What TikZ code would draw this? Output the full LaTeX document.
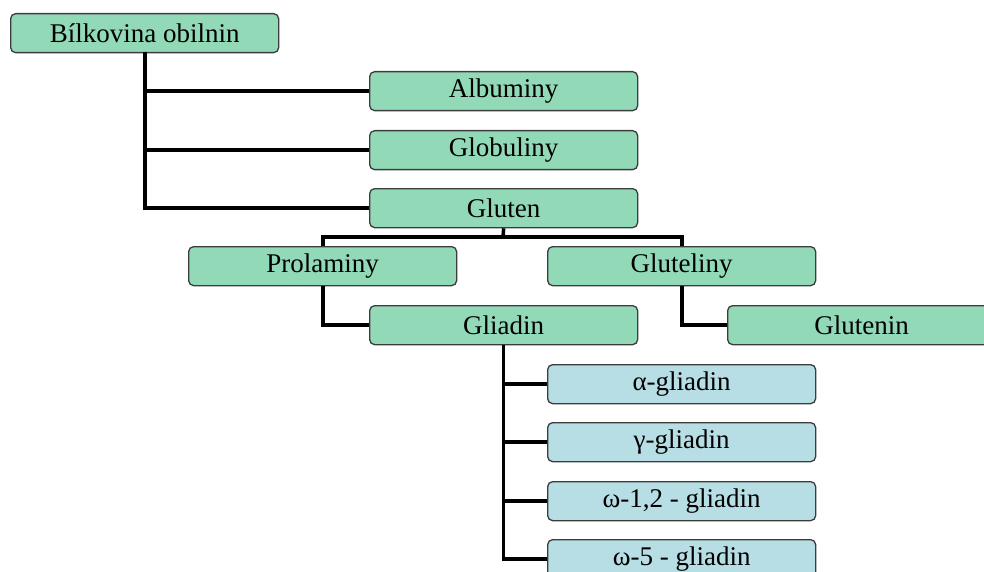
\documentclass[tikz,border=0pt]{standalone}
\usepackage{fontspec}
\setmainfont{Liberation Serif}
\definecolor{boxgreen}{RGB}{146,217,183}
\definecolor{boxblue}{RGB}{183,222,228}
\definecolor{boxline}{RGB}{60,60,60}
\begin{document}
\begin{tikzpicture}[x=1pt,y=-1pt,
  box/.style={draw=boxline,line width=1.3pt,rounded corners=5pt,fill=boxgreen,
    minimum width=268pt,minimum height=39pt,inner sep=0pt,anchor=north west,
    font=\fontsize{27}{30}\selectfont},
  bluebox/.style={box,fill=boxblue},
  conn/.style={line width=3.5pt,draw=black}]
\useasboundingbox (0,0) rectangle (984,572);
\clip (0,0) rectangle (984,572);
\node[box] (bo) at (10,13) {Bílkovina obilnin};
\node[box] (al) at (369,71) {Albuminy};
\node[box] (gb) at (369,130) {Globuliny};
\node[box] (gl) at (369,188) {Gluten};
\node[box] (pr) at (188,246) {Prolaminy};
\node[box] (gt) at (547,246) {Gluteliny};
\node[box] (gd) at (369,305) {Gliadin};
\node[box] (gn) at (727,305) {Glutenin};
\node[bluebox] (a1) at (547,364) {α-gliadin};
\node[bluebox] (a2) at (547,422) {γ-gliadin};
\node[bluebox] (a3) at (547,481) {ω-1,2 - gliadin};
\node[bluebox] (a4) at (547,539) {ω-5 - gliadin};
\draw[conn] (145,52) |- (al.west);
\draw[conn] (145,52) |- (gb.west);
\draw[conn] (145,52) |- (gl.west);
\coordinate (gj) at (503,237);
\draw[conn] (gl.south) -- (gj);
\draw[conn] (pr.north -| 323,0) -- (323,237) -- (682,237) -- (gt.north -| 682,0);
\draw[conn] (pr.south -| 323,0) |- (gd.west);
\draw[conn] (gt.south -| 682,0) |- (gn.west);
\draw[conn] (gd.south) |- (a1.west);
\draw[conn] (gd.south) |- (a2.west);
\draw[conn] (gd.south) |- (a3.west);
\draw[conn] (gd.south) |- (a4.west);
\end{tikzpicture}
\end{document}
